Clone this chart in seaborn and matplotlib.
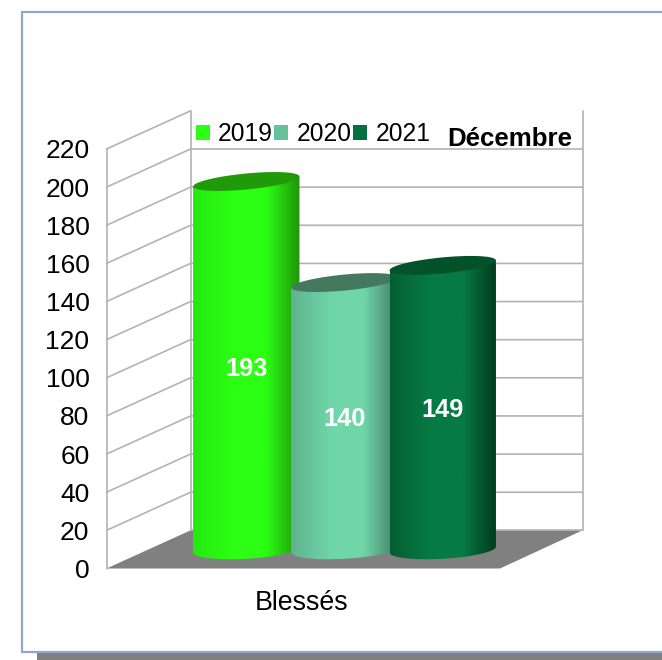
import numpy as np
import matplotlib
matplotlib.use("Agg")
import matplotlib.pyplot as plt
import seaborn as sns
from matplotlib.patches import Patch, PathPatch, Polygon, Rectangle
from matplotlib.path import Path
from matplotlib.colors import to_rgb
from matplotlib.transforms import ScaledTranslation

years = ["2019", "2020", "2021"]
values = [193, 140, 149]
y_ticks = list(range(0, 221, 20))
category = "Blessés"
month = "Décembre"
legend_colors = ["#2BFF15", "#66C29A", "#067040"]
left_colors = ["#26E812", "#5FB38E", "#055F32"]
mid_colors = ["#2CFF14", "#70D6A8", "#067A44"]
right_colors = ["#1F9508", "#3F7D62", "#023A1D"]
top_colors = ["#209A09", "#44795F", "#03522A"]

W, H = 662, 660
sns.set_theme(style="white")
plt.rcParams["font.family"] = ["Liberation Sans", "DejaVu Sans"]
fig = plt.figure(figsize=(W / 100, H / 100), dpi=100)


def rect(x0, x1, y_top, y_bot):
    return [x0 / W, 1 - y_bot / H, (x1 - x0) / W, (y_bot - y_top) / H]


# whole-figure pixel layer: chart frame and shadow
bg = fig.add_axes([0, 0, 1, 1], zorder=0)
bg.set_xlim(0, W)
bg.set_ylim(H, 0)
bg.axis("off")
bg.add_patch(Rectangle((37, 640), W, 30, fc="#808080", ec="none"))
bg.add_patch(Rectangle((21.5, 11.5), W + 20, 640, fc="white", ec="#8FAAD2", lw=1.6))

# front plane of the 3D box: y axis with its labels
FX0, FX1, FY0, FY1 = 106.5, 500.0, 568.5, 149.0
ax = fig.add_axes(rect(FX0, FX1, FY1, FY0), zorder=1)
ax.patch.set_alpha(0)
ax.set_xlim(FX0, FX1)
ax.set_ylim(0, 220)
for s in ax.spines.values():
    s.set_visible(False)
ax.set_xticks([])
ax.set_yticks(y_ticks)
ax.set_yticklabels([str(v) for v in y_ticks], fontsize=19, color="black")
ax.tick_params(axis="y", length=0, pad=12.3)
label_shift = ScaledTranslation(0, -2.5 / 100, fig.dpi_scale_trans)
for lab in ax.get_yticklabels():
    lab.set_verticalalignment("center")
    lab.set_transform(lab.get_transform() + label_shift)

BACKX, RIGHTX = 190.5, 582.5
DEPTH = 20
GRID = "#B3B3B3"
ax.add_patch(Polygon([(FX0, 0), (BACKX, DEPTH), (RIGHTX, DEPTH), (FX1, 0)],
                     closed=True, fc="#808080", ec="none", clip_on=False, zorder=1))
for v in y_ticks:
    if v == 0:
        ax.plot([BACKX, RIGHTX], [DEPTH, DEPTH], color=GRID, lw=1.2, clip_on=False, zorder=1.5)
    elif v == y_ticks[-1]:
        ax.plot([FX0, BACKX], [v, v + DEPTH], color=GRID, lw=1.2, clip_on=False, zorder=1.5)
    else:
        ax.plot([FX0, BACKX, RIGHTX], [v, v + DEPTH, v + DEPTH], color=GRID, lw=1.2,
                clip_on=False, zorder=1.5)
for xv, y0 in [(FX0, 0), (BACKX, DEPTH), (RIGHTX, DEPTH)]:
    ax.plot([xv, xv], [y0, y0 + 220], color=GRID, lw=1.2, clip_on=False, zorder=1.5)

# cylinders stand on the middle of the floor
BY0 = 549.5
PX_PER_UNIT = (FY0 - FY1) / 220
C0, STEP, BARW = 246.3, 98.2, 106.3
BX0, BX1 = 150.0, 540.0
axb = fig.add_axes(rect(BX0, BX1, BY0 - 220 * PX_PER_UNIT, BY0), zorder=2)
axb.patch.set_alpha(0)
df_x = np.array(years)
sns.barplot(x=df_x, y=values, hue=df_x, palette=legend_colors, width=BARW / STEP,
            legend=False, saturation=1, ax=axb, order=years, hue_order=years)
xl = ((BX0 - C0) / STEP, (BX1 - C0) / STEP)
axb.set_xlim(*xl)
axb.set_ylim(0, 220)
axb.axis("off")
fig.canvas.draw()


def ell(cx, cy, rx, ry, sh, t):
    return np.column_stack([cx + rx * np.cos(t), cy + ry * np.sin(t) - sh * np.cos(t)])


to_px = lambda x, y: (BX0 + (x - xl[0]) * STEP, BY0 - y * PX_PER_UNIT)
bars = sorted(axb.patches, key=lambda p: p.get_x())
for i, bar in enumerate(bars):
    x0, w, h = bar.get_x(), bar.get_width(), bar.get_height()
    z = 3 + i
    pxl, pyb = to_px(x0, 0)
    pxr, pyt = to_px(x0 + w, h)
    cx, rx = (pxl + pxr) / 2, (pxr - pxl) / 2
    tt = np.linspace(np.pi, 0, 60)
    low = ell(cx, pyb, rx, 9.3, 3.0, tt)
    topr = ell(cx, pyt, rx, 8.0, 5.0, np.array([0.0, np.pi]))
    body = np.vstack([low, topr, low[:1]])
    top = ell(cx, pyt, rx, 8.0, 5.0, np.linspace(0, 2 * np.pi, 120))
    trans = bg.transData
    body_patch = PathPatch(Path(body), fc="none", ec="none", transform=trans, clip_on=False)
    axb.add_patch(body_patch)
    bar.set_zorder(z)
    bar.set_linewidth(0)
    bar.set_clip_box(fig.bbox)
    bar.set_clip_path(body_patch)
    u = np.linspace(0, 1, 256)
    stops = np.array([to_rgb(left_colors[i]), to_rgb(mid_colors[i]), to_rgb(mid_colors[i]),
                      to_rgb(right_colors[i])])
    grad = np.stack([np.interp(u, [0, 0.38, 0.68, 1], stops[:, c]) for c in range(3)], axis=1)[None, :, :]
    im = axb.imshow(grad, extent=(x0, x0 + w, -12, h + 12), aspect="auto", zorder=z + 0.1,
                    interpolation="bilinear")
    im.set_clip_box(fig.bbox)
    im.set_clip_path(body_patch)
    axb.add_patch(Polygon(top, closed=True, fc=top_colors[i], ec="none", transform=trans,
                          zorder=z + 0.2, clip_on=False))
    axb.text(x0 + w / 2 - 0.002, h / 2 - 1.6, str(values[i]), ha="center", va="center", color="white",
             fontsize=18.3, fontweight="bold", zorder=z + 0.3)
axb.set_xlim(*xl)
axb.set_ylim(0, 220)

# legend, month label, category label
hs = [Patch(fc=c, ec="none", label=y) for c, y in zip(legend_colors, years)]
leg = bg.legend(handles=hs, ncol=3, frameon=False, fontsize=17.7, loc="lower left",
                bbox_to_anchor=(195.5 / W, 1 - 146 / H), borderpad=0, borderaxespad=0,
                handlelength=0.58, handleheight=0.58, handletextpad=0.33, columnspacing=0.06,
                labelcolor="black")
leg.set_zorder(10)
fig.text(509.5 / W, 1 - 139 / H, month, ha="center", va="center", fontsize=18.6, fontweight="bold",
         color="black", zorder=20)
fig.text(301.5 / W, 1 - 603 / H, category, ha="center", va="center", fontsize=19.3, color="black", zorder=20)

fig.savefig("out.png", dpi=100)
